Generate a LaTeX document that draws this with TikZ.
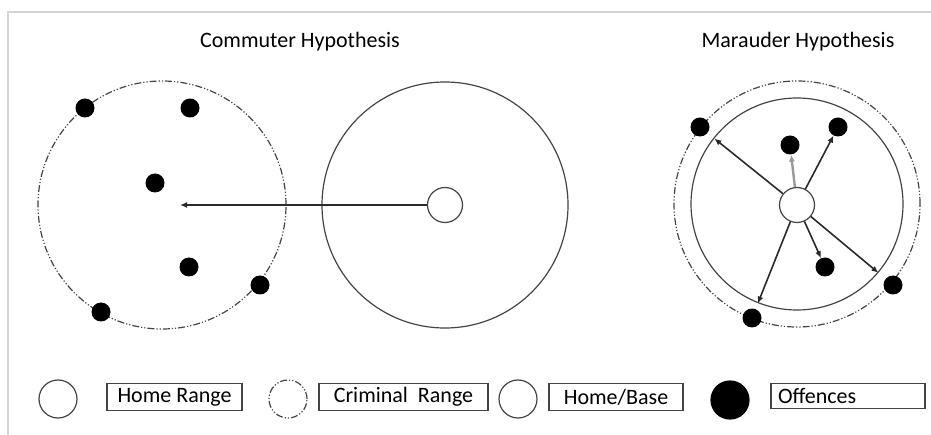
\documentclass[tikz,border=0pt]{standalone}
\usepackage{fontspec}
\setmainfont{Carlito}
\usetikzlibrary{arrows.meta,calc}
\definecolor{ring}{HTML}{444444}
\definecolor{arrowc}{HTML}{2A2A2A}
\definecolor{framec}{HTML}{D4D4D4}
\definecolor{lightarr}{HTML}{9A9A9A}
\begin{document}
\begin{tikzpicture}[x=1pt,y=-1pt,
 homering/.style={circle,draw=ring,line width=1.2pt,minimum size=246pt,inner sep=0pt},
 crimring/.style={circle,draw=ring,line width=1.2pt,dash pattern=on 7pt off 2pt on 1.2pt off 2pt on 1.2pt off 2pt,minimum size=248pt,inner sep=0pt},
 basering/.style={circle,draw=ring,line width=1.2pt,fill=white,minimum size=35pt,inner sep=0pt},
 offence/.style={circle,fill=black,minimum size=19pt,inner sep=0pt},
 arr/.style={draw=arrowc,line width=1.6pt,-{Latex[length=7pt,width=6pt]}},
 titletext/.style={font=\fontsize{22}{22}\selectfont},
 lbl/.style={draw=ring,line width=1.1pt,minimum height=27pt,inner sep=0pt,font=\fontsize{22}{22}\selectfont},
 legc/.style={circle,draw=ring,line width=1.2pt,minimum size=38pt,inner sep=0pt}
]
\useasboundingbox (0,0) rectangle (931,435);
\draw[framec,line width=1.5pt] (8,435) -- (8,12) -- (931,12);

\node[titletext] (t1) at (300,42) {Commuter Hypothesis};
\node[titletext] (t2) at (798,42) {Marauder Hypothesis};

% Commuter
\node[crimring] (CR1) at (162,205) {};
\node[homering] (HR1) at (445,205) {};
\node[basering] (B1) at (445,205) {};
\coordinate (tip1) at (180,205);
\draw[arr] (B1) -- (tip1);
\node[offence] (a1) at (85,108) {};
\node[offence] (a2) at (190,108) {};
\node[offence] (a3) at (155,183) {};
\node[offence] (a4) at (189,267) {};
\node[offence] (a5) at (260,285) {};
\node[offence] (a6) at (101,312) {};

% Marauder
\node[crimring,minimum size=246pt] (CR2) at (797,204) {};
\node[homering,minimum size=212pt] (HR2) at (797,204) {};
\node[basering] (B2) at (797,205) {};
\node[offence] (m1) at (700,127) {};
\node[offence] (m2) at (790,145) {};
\node[offence] (m3) at (838,127) {};
\node[offence] (m4) at (825,267) {};
\node[offence] (m5) at (893,285) {};
\node[offence] (m6) at (752,318) {};
\coordinate (e1) at ($(B2)!106pt!(m1)$);
\coordinate (e5) at ($(B2)!106pt!(m5)$);
\coordinate (e6) at ($(B2)!106pt!(m6)$);
\draw[arr] (B2) -- (e1);
\draw[arr] (B2) -- (e5);
\draw[arr] (B2) -- (e6);
\draw[arr,draw=lightarr,line width=2.4pt] (B2) -- (m2);
\draw[arr] (B2) -- (m3);
\draw[arr] (B2) -- (m4);

% Legend
\node[legc] (L1) at (58,399) {};
\node[lbl,minimum width=135pt] (T1) at (174.5,397) {Home Range};
\node[legc,dash pattern=on 7pt off 2pt on 1.2pt off 2pt on 1.2pt off 2pt] (L2) at (288,399) {};
\node[lbl,minimum width=169pt] (T2) at (403.5,397) {Criminal\ \ Range};
\node[legc] (L3) at (518,399) {};
\node[lbl,minimum width=134pt] (T3) at (616,397) {Home/Base};
\node[legc,fill=black,draw=black] (L4) at (730,400) {};
\node[lbl,text width=140pt,inner xsep=7pt,align=left,minimum height=25pt] (T4) at (848,396) {Offences};
\end{tikzpicture}
\end{document}
